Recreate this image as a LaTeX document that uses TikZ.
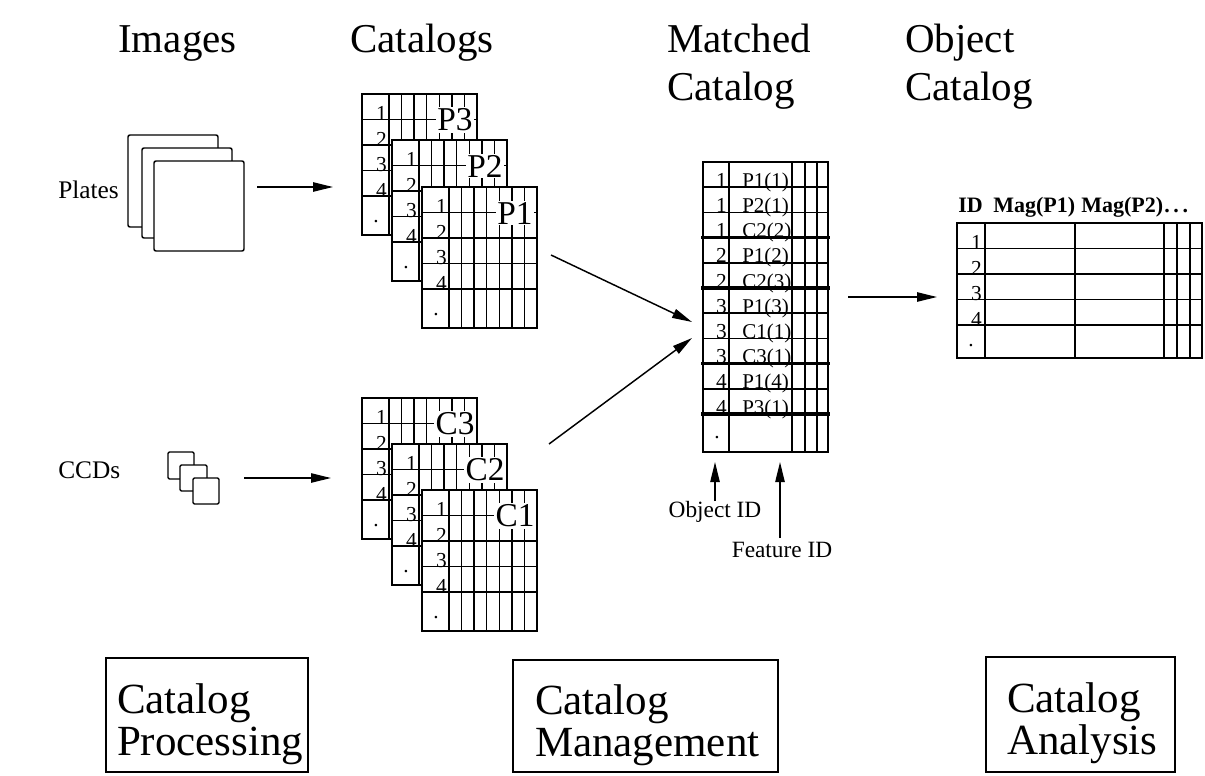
\documentclass[tikz,border=0pt]{standalone}
\usepackage{fontspec}
\setmainfont{Liberation Serif}
\usetikzlibrary{arrows.meta}

\tikzset{
  grid/.style={line width=1.1pt},
  heavy/.style={line width=2.8pt},
  link/.style={line width=1.1pt,-{Triangle[length=15pt,width=7pt]}},
  heading/.style={anchor=north west,inner sep=0pt,align=left,font=\fontsize{30.75}{36}\selectfont},
  side/.style={anchor=base west,inner sep=0pt,font=\fontsize{19}{22}\selectfont},
  rowno/.style={anchor=base east,inner sep=0pt,font=\fontsize{16}{17}\selectfont},
  dot/.style={anchor=base,inner sep=0pt,font=\fontsize{16}{17}\selectfont},
  sheetname/.style={fill=white,inner sep=1pt,font=\fontsize{25}{26}\selectfont},
  feat/.style={anchor=base west,inner sep=0pt,font=\fontsize{15.75}{17}\selectfont},
  colhead/.style={anchor=base west,inner sep=0pt,font=\bfseries\fontsize{16.5}{18}\selectfont},
  idlabel/.style={anchor=base,inner sep=0pt,font=\fontsize{17.5}{19}\selectfont},
  stage/.style={draw,line width=1.3pt,inner sep=0pt,align=left,font=\fontsize{32.25}{31.5}\selectfont}
}

% lowers the two lines inside a stage box
\newcommand{\stagetop}{\rule{0pt}{35.5pt}}

% one sheet of a catalog stack: #1 corner, #2 name
\newcommand{\catsheet}[2]{%
  \begin{scope}[shift={(#1)}]
    \filldraw[grid,fill=white] (0,0) rectangle (115,141);
    \foreach \y in {25.5,51,76.5,102}
      \draw[grid] (0,\y) -- (115,\y);
    \foreach \x in {27,39.57,52.14,64.71,77.29,89.86,102.43}
      \draw[grid] (\x,0) -- (\x,141);
    \foreach \n in {1,...,4}
      \node[rowno] at (25,\n*25.5+1) {\n};
    \node[dot] at (14,128) {.};
    \node[sheetname] (#2) at (93,26) {#2};
  \end{scope}}

\begin{document}
\begin{tikzpicture}[x=0.75pt,y=0.75pt,yscale=-1,xscale=1]
  \useasboundingbox (0,0) rectangle (1205,775);

  % column headings
  \node[heading] (images) at (118,25) {Images};
  \node[heading] (catalogs) at (350,24) {Catalogs};
  \node[heading] (matchedhead) at (667,24) {Matched\\Catalog};
  \node[heading] (objecthead) at (905,24) {Object\\Catalog};

  % sources
  \node[side] (plates) at (58,198) {Plates};
  \node[side] (ccds) at (58,478) {CCDs};

  \draw[grid,rounded corners=1.5pt,fill=white] (128,135) rectangle (218,227);
  \draw[grid,rounded corners=1.5pt,fill=white] (142,148) rectangle (232,238);
  \draw[grid,rounded corners=1.5pt,fill=white] (154,161) rectangle (244,251);

  \draw[grid,rounded corners=1pt,fill=white] (168,452) rectangle (194,479);
  \draw[grid,rounded corners=1pt,fill=white] (180,465) rectangle (207,491);
  \draw[grid,rounded corners=1pt,fill=white] (193,478) rectangle (219,504);

  \coordinate (plates out) at (257,187);
  \coordinate (plates in) at (333,187);
  \coordinate (ccds out) at (244,478);
  \coordinate (ccds in) at (331,478);
  \draw[link] (plates out) -- (plates in);
  \draw[link] (ccds out) -- (ccds in);

  % catalog stacks
  \catsheet{362,94}{P3}
  \catsheet{392,140}{P2}
  \catsheet{422,187}{P1}
  \catsheet{362,398}{C3}
  \catsheet{392,444}{C2}
  \catsheet{422,490}{C1}

  \coordinate (plate cat) at (551,255);
  \coordinate (ccd cat) at (549,444);
  \coordinate (match in a) at (692,322);
  \coordinate (match in b) at (692,338);
  \draw[link] (plate cat) -- (match in a);
  \draw[link] (ccd cat) -- (match in b);

  % matched catalog
  \begin{scope}[shift={(703,162)}]
    \foreach \obj/\feat [count=\r] in {1/P1(1),1/P2(1),1/C2(2),2/P1(2),2/C2(3),3/P1(3),3/C1(1),3/C3(1),4/P1(4),4/P3(1)}{
      \node[rowno] (mo-\r) at (24,\r*25.2) {\obj};
      \node[feat] (mf-\r) at (39,\r*25.2) {\feat};
    }
    \node[dot] (mdot) at (14,276) {.};
    \foreach \r in {1,2,4,6,7,9}
      \draw[grid] (0,\r*25.2) -- (125,\r*25.2);
    \foreach \r in {3,5,8,10}
      \draw[heavy] (-2,\r*25.2) -- (127,\r*25.2);
    \foreach \x in {26,89,102,114}
      \draw[grid] (\x,0) -- (\x,290);
    \draw[grid] (0,0) rectangle (125,290);
  \end{scope}

  \node[idlabel] (objid) at (715,517) {Object ID};
  \node[idlabel] (featid) at (782,557) {Feature ID};
  \coordinate (objid tail) at (715,501);
  \coordinate (objid tip) at (715,462);
  \coordinate (featid tail) at (780,538);
  \coordinate (featid tip) at (780,462);
  \draw[link] (objid tail) -- (objid tip);
  \draw[link] (featid tail) -- (featid tip);

  \coordinate (match out) at (848,297);
  \coordinate (object in) at (937,297);
  \draw[link] (match out) -- (object in);

  % object catalog
  \node[colhead] (hid) at (958,212) {ID};
  \node[colhead] (hmag1) at (993,212) {Mag(P1)};
  \node[colhead] (hmag2) at (1081,212) {Mag(P2)};
  \node[colhead] (hmore) at (1164,212) {.\,.\,.};
  \begin{scope}[shift={(957,223)}]
    \draw[grid] (0,0) rectangle (245,135);
    \foreach \y in {25.5,51,76.5,102}
      \draw[grid] (0,\y) -- (245,\y);
    \foreach \x in {28,118,207,220,233}
      \draw[grid] (\x,0) -- (\x,135);
    \foreach \n in {1,...,4}
      \node[rowno] (oid-\n) at (25,\n*25.5+1) {\n};
    \node[dot] (odot) at (14,123) {.};
  \end{scope}

  % stages
  \node[stage,minimum width=151.5pt,minimum height=85.5pt,text width=135pt] (processing) at (207,715) {\stagetop Catalog\\Processing};
  \node[stage,minimum width=198.75pt,minimum height=84pt,text width=165.75pt] (management) at (645.5,716) {\stagetop Catalog\\Management};
  \node[stage,minimum width=141.75pt,minimum height=86.25pt,text width=110.25pt] (analysis) at (1080.5,714.5) {\stagetop Catalog\\Analysis};
\end{tikzpicture}
\end{document}
